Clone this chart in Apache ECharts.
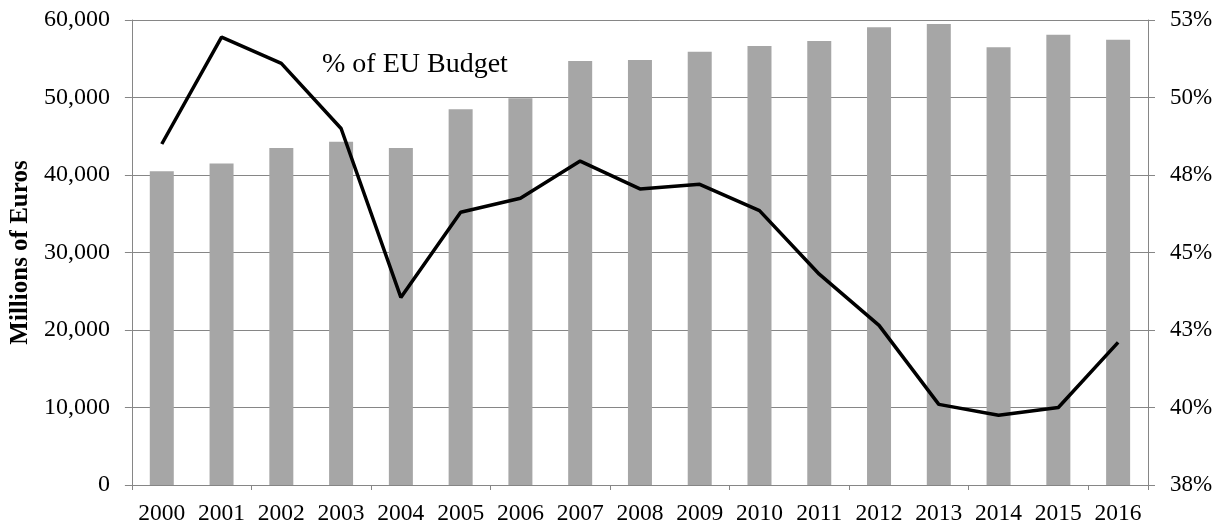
<!DOCTYPE html>
<html>
<head>
<meta charset="utf-8">
<script src="https://cdn.jsdelivr.net/npm/echarts@6/dist/echarts.min.js"></script>
<style>
  html, body { margin: 0; padding: 0; background: #ffffff; }
  #chart { width: 1223px; height: 529px; }
</style>
</head>
<body>
<div id="chart"></div>
<script>
// 年份
var years = ['2000', '2001', '2002', '2003', '2004', '2005', '2006', '2007', '2008',
  '2009', '2010', '2011', '2012', '2013', '2014', '2015', '2016'];
// Millions of Euros (bars)
var millions = [40500, 41500, 43500, 44300, 43500, 48500, 49900, 54700, 54850,
  55900, 56650, 57300, 59050, 59500, 56500, 58100, 57450];
// % of EU Budget (line)
var budgetShare = [48.5, 51.95, 51.1, 49.0, 43.55, 46.3, 46.75, 47.95, 47.05,
  47.2, 46.35, 44.3, 42.65, 40.1, 39.75, 40.0, 42.1];

var font = 'Liberation Serif';
var axisGrey = '#868686';

var myCharts = echarts.init(document.getElementById('chart'));
var option = {
  backgroundColor: '#ffffff',
  animation: false,
  title: {
    text: '% of EU Budget',
    left: 317,
    top: 46,
    textStyle: {
      fontFamily: font,
      fontSize: 28,
      fontWeight: 'normal',
      color: '#000000'
    }
  },
  grid: {
    left: 130,
    right: 75,
    top: 20,
    bottom: 44
  },
  xAxis: {
    type: 'category',
    data: years,
    boundaryGap: true,
    axisLine: { lineStyle: { color: axisGrey, width: 1 } },
    axisTick: {
      show: true,
      interval: 1,
      length: 5,
      lineStyle: { color: axisGrey }
    },
    axisLabel: {
      interval: 0,
      margin: 17,
      fontFamily: font,
      fontSize: 23.5,
      color: '#000000'
    }
  },
  yAxis: [{
    type: 'value',
    name: 'Millions of Euros',
    nameLocation: 'middle',
    nameGap: 97,
    nameRotate: 90,
    nameTextStyle: {
      fontFamily: font,
      fontSize: 25,
      fontWeight: 'bold',
      color: '#000000'
    },
    min: 0,
    max: 60000,
    interval: 10000,
    axisLine: { show: true, lineStyle: { color: axisGrey } },
    axisTick: { show: true, length: 7, lineStyle: { color: axisGrey } },
    splitLine: { show: true, lineStyle: { color: axisGrey, width: 1 } },
    axisLabel: {
      margin: 22,
      fontFamily: font,
      fontSize: 24,
      color: '#000000',
      formatter: function (v) {
        return v.toLocaleString('en-US');
      }
    }
  }, {
    type: 'value',
    position: 'right',
    min: 37.5,
    max: 52.5,
    interval: 2.5,
    axisLine: { show: true, lineStyle: { color: axisGrey } },
    axisTick: { show: true, length: 7, lineStyle: { color: axisGrey } },
    splitLine: { show: false },
    axisLabel: {
      margin: 22,
      fontFamily: font,
      fontSize: 23,
      color: '#000000',
      formatter: function (v) {
        return Math.round(v) + '%';
      }
    }
  }],
  series: [{
    name: 'Millions of Euros',
    type: 'bar',
    yAxisIndex: 0,
    barWidth: 24,
    itemStyle: { color: '#a6a6a6' },
    data: millions
  }, {
    name: '% of EU Budget',
    type: 'line',
    yAxisIndex: 1,
    showSymbol: false,
    symbol: 'none',
    lineStyle: { color: '#000000', width: 3.5 },
    data: budgetShare
  }]
};
myCharts.setOption(option);
</script>
</body>
</html>
